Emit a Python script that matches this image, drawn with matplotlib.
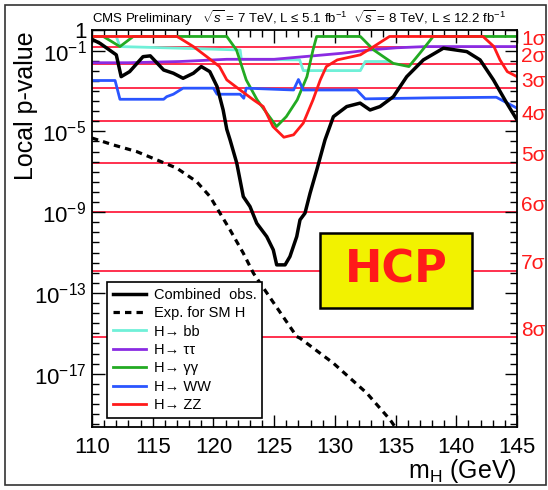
import matplotlib
matplotlib.use("Agg")
import matplotlib.pyplot as plt
import numpy as np
from matplotlib.patches import Rectangle
from matplotlib.ticker import FixedLocator, MultipleLocator, NullFormatter

plt.rcParams['font.family'] = ['Liberation Sans', 'DejaVu Sans']
plt.rcParams['mathtext.fontset'] = 'custom'
plt.rcParams['mathtext.rm'] = 'Liberation Sans'
plt.rcParams['mathtext.it'] = 'Liberation Sans:italic'

# combined observed (mass, log10 p)
obs_m = [110.0, 110.66, 112.0, 112.4, 113.1, 114.2, 114.8, 115.9, 116.7, 117.5, 118.35,
         119.0, 119.7, 120.3, 120.8, 121.1, 121.37, 121.92, 122.46, 123.01, 123.57,
         124.39, 124.93, 125.21, 125.9, 126.3, 126.86, 127.13, 127.54, 127.96, 128.51,
         129.19, 129.88, 130.98, 132.08, 132.9, 133.72, 134.82, 135.92, 137.29, 138.94,
         140.87, 141.96, 143.06, 144.16, 145.0]
obs_lp = [-0.44, -0.64, -1.21, -2.29, -2.04, -1.30, -1.26, -1.96, -2.12, -2.37, -2.12,
          -1.79, -2.04, -2.78, -3.94, -4.9, -5.42, -6.57, -8.23, -8.72, -9.55,
          -10.21, -10.87, -11.61, -11.61, -11.2, -10.21, -9.38, -9.05, -8.06, -6.91,
          -5.42, -4.27, -3.77, -3.60, -3.94, -3.77, -3.28, -2.29, -1.46, -0.88,
          -1.05, -1.46, -2.45, -3.60, -4.43]

# expected for SM Higgs
exp_m = [110.0, 111.75, 113.68, 115.33, 116.98, 118.62, 119.72, 120.54, 121.37, 122.46,
         123.29, 123.84, 126.86, 127.13, 129.88, 132.63, 134.55, 135.5]
exp_lp = [-5.33, -5.67, -6.0, -6.41, -6.82, -7.49, -8.23, -9.05, -9.88, -11.03,
          -12.02, -12.51, -15.16, -15.24, -16.48, -17.96, -19.28, -20.1]

bb_m = [110.0, 112.0, 112.3, 117.25, 122.2, 122.3, 127.1, 127.4, 132.1, 132.5, 134.5]
bb_lp = [-0.30, -0.30, -0.80, -0.88, -0.97, -1.43, -1.46, -1.99, -1.99, -1.54, -1.54]

tt_m = [110.0, 113.0, 117.25, 121.1, 125.0, 128.2, 130.6, 132.8, 135.1, 137.5, 145.0]
tt_lp = [-1.60, -1.60, -1.54, -1.43, -1.43, -1.26, -1.13, -0.97, -0.86, -0.80, -0.80]

gg_m = [110.0, 110.93, 112.3, 113.4, 121.1, 121.9, 122.7, 123.6, 124.4, 125.2, 126.0,
        126.9, 127.7, 128.2, 128.5, 132.1, 133.2, 134.8, 136.1, 137.0, 138.1, 145.0]
gg_lp = [-0.30, -0.30, -0.80, -0.30, -0.30, -0.97, -2.45, -3.44, -4.10, -4.76, -4.27,
         -3.44, -2.29, -0.97, -0.30, -0.30, -0.97, -1.63, -1.79, -1.13, -0.30, -0.30]

ww_m = [110.0, 111.9, 112.3, 115.9, 116.15, 116.7, 117.5, 120.0, 120.3, 122.2, 122.5,
        122.7, 126.6, 127.0, 127.4, 131.8, 132.5, 137.8, 143.3, 145.0]
ww_lp = [-2.48, -2.48, -3.41, -3.41, -3.28, -3.16, -2.86, -2.86, -3.16, -3.16, -3.36,
         -2.86, -2.95, -2.43, -2.95, -2.95, -3.39, -3.34, -3.31, -3.85]

zz_m = [110.0, 117.0, 117.25, 118.35, 119.45, 120.5, 121.1, 122.2, 123.3, 124.1, 124.9,
        125.8, 126.6, 127.4, 128.2, 128.8, 129.3, 130.2, 132.1, 133.2, 134.5, 142.2,
        143.1, 143.6, 144.2, 145.0]
zz_lp = [-0.30, -0.30, -0.39, -0.80, -1.30, -1.79, -2.45, -2.95, -3.44, -3.77, -4.76,
         -5.29, -5.17, -4.59, -3.44, -2.45, -1.79, -1.46, -1.21, -0.80, -0.30, -0.30,
         -0.80, -1.46, -2.04, -2.29]

sigma_p = [0.1587, 0.02275, 1.35e-3, 3.17e-5, 2.87e-7, 9.87e-10, 1.28e-12, 6.22e-16]
sigma_lab = ["1σ", "2σ", "3σ", "4σ", "5σ", "6σ", "7σ", "8σ"]

ytick_vals = [1, 1e-1, 1e-5, 1e-9, 1e-13, 1e-17]
ytick_lab = ["1", r"10$^{-1}$", r"10$^{-5}$", r"10$^{-9}$", r"10$^{-13}$", r"10$^{-17}$"]

fig = plt.figure(figsize=(5.48, 4.90), dpi=100)
ax = fig.add_axes([0.1679, 0.1286, 0.7755, 0.8102])
ax.set_yscale('log')

for p in sigma_p:
    ax.axhline(p, color='#ff2040', lw=1.3, zorder=1)

ax.plot(bb_m, 10.0 ** np.array(bb_lp), color='#70f0d8', lw=2.0, label="H→ bb")
ax.plot(tt_m, 10.0 ** np.array(tt_lp), color='#8a2be2', lw=2.0, label="H→ ττ")
ax.plot(gg_m, 10.0 ** np.array(gg_lp), color='#22aa22', lw=2.0, label="H→ γγ")
ax.plot(ww_m, 10.0 ** np.array(ww_lp), color='#2a55ff', lw=2.0, label="H→ WW")
ax.plot(zz_m, 10.0 ** np.array(zz_lp), color='#ff1a1a', lw=2.0, label="H→ ZZ")
ax.plot(obs_m, 10.0 ** np.array(obs_lp), color='black', lw=2.5, label="Combined  obs.")
ax.plot(exp_m, 10.0 ** np.array(exp_lp), color='black', lw=2.3, ls=(0, (2, 1.6)),
        label="Exp. for SM H")

ax.set_xlim(110, 145)
ax.set_ylim(2.3e-20, 1.05)

ax.xaxis.set_major_locator(MultipleLocator(5))
ax.xaxis.set_minor_locator(MultipleLocator(1))
ax.yaxis.set_major_locator(FixedLocator(ytick_vals))
ax.set_yticklabels(ytick_lab)
ax.yaxis.set_minor_locator(FixedLocator([10.0 ** (-k / 2) for k in range(0, 40)]))
ax.yaxis.set_minor_formatter(NullFormatter())
ax.tick_params(which='both', direction='in', top=True, right=True, labelsize=16, width=1.0)
ax.tick_params(which='major', length=9)
ax.tick_params(which='minor', length=5)
ax.tick_params(axis='x', pad=7)
ax.tick_params(axis='y', pad=4)
for s in ax.spines.values():
    s.set_linewidth(1.3)

for p, lab in zip(sigma_p, sigma_lab):
    ax.annotate(lab, xy=(1.0, p), xycoords=('axes fraction', 'data'), xytext=(3, 5),
                textcoords='offset points', color='#ff1a1a', fontsize=15,
                ha='left', va='center', annotation_clip=False)

handles, labels = ax.get_legend_handles_labels()
order = [5, 6, 0, 1, 2, 3, 4]
leg = ax.legend([handles[i] for i in order], [labels[i] for i in order],
                loc='lower left', bbox_to_anchor=(0.035, 0.023), borderaxespad=0,
                fontsize=10.5, frameon=True, fancybox=False, framealpha=1,
                edgecolor='black', labelspacing=0.3, handlelength=2.3,
                handletextpad=0.5, borderpad=0.4)
leg.get_frame().set_linewidth(1.2)

ax.add_patch(Rectangle((0.536, 0.300), 0.358, 0.189, transform=ax.transAxes,
                       facecolor='#f2f200', edgecolor='black', lw=1.8, zorder=5))
ax.text(0.715, 0.3945, "HCP", transform=ax.transAxes, color='#ff1a1a', fontsize=32,
        fontweight='bold', family=['DejaVu Sans'], ha='center', va='center', zorder=6)

fig.text(92 / 548, 1 - 18 / 490,
         r"CMS Preliminary   $\sqrt{s}$ = 7 TeV, L ≤ 5.1 fb$^{-1}$  $\sqrt{s}$ = 8 TeV, L ≤ 12.2 fb$^{-1}$",
         fontsize=9.5, ha='left', va='center')
fig.text(26 / 548, 1 - 106 / 490, "Local p-value", rotation=90, fontsize=18,
         ha='center', va='center')
fig.text(517 / 548, 1 - 471 / 490, r"m$_{\mathrm{H}}$ (GeV)", fontsize=18,
         ha='right', va='center')

fig.patches.append(Rectangle((5 / 548, 5 / 490), 541 / 548, 480 / 490,
                             transform=fig.transFigure, fill=False,
                             edgecolor='#333333', lw=1.2))

fig.savefig("out.png", dpi=100)
